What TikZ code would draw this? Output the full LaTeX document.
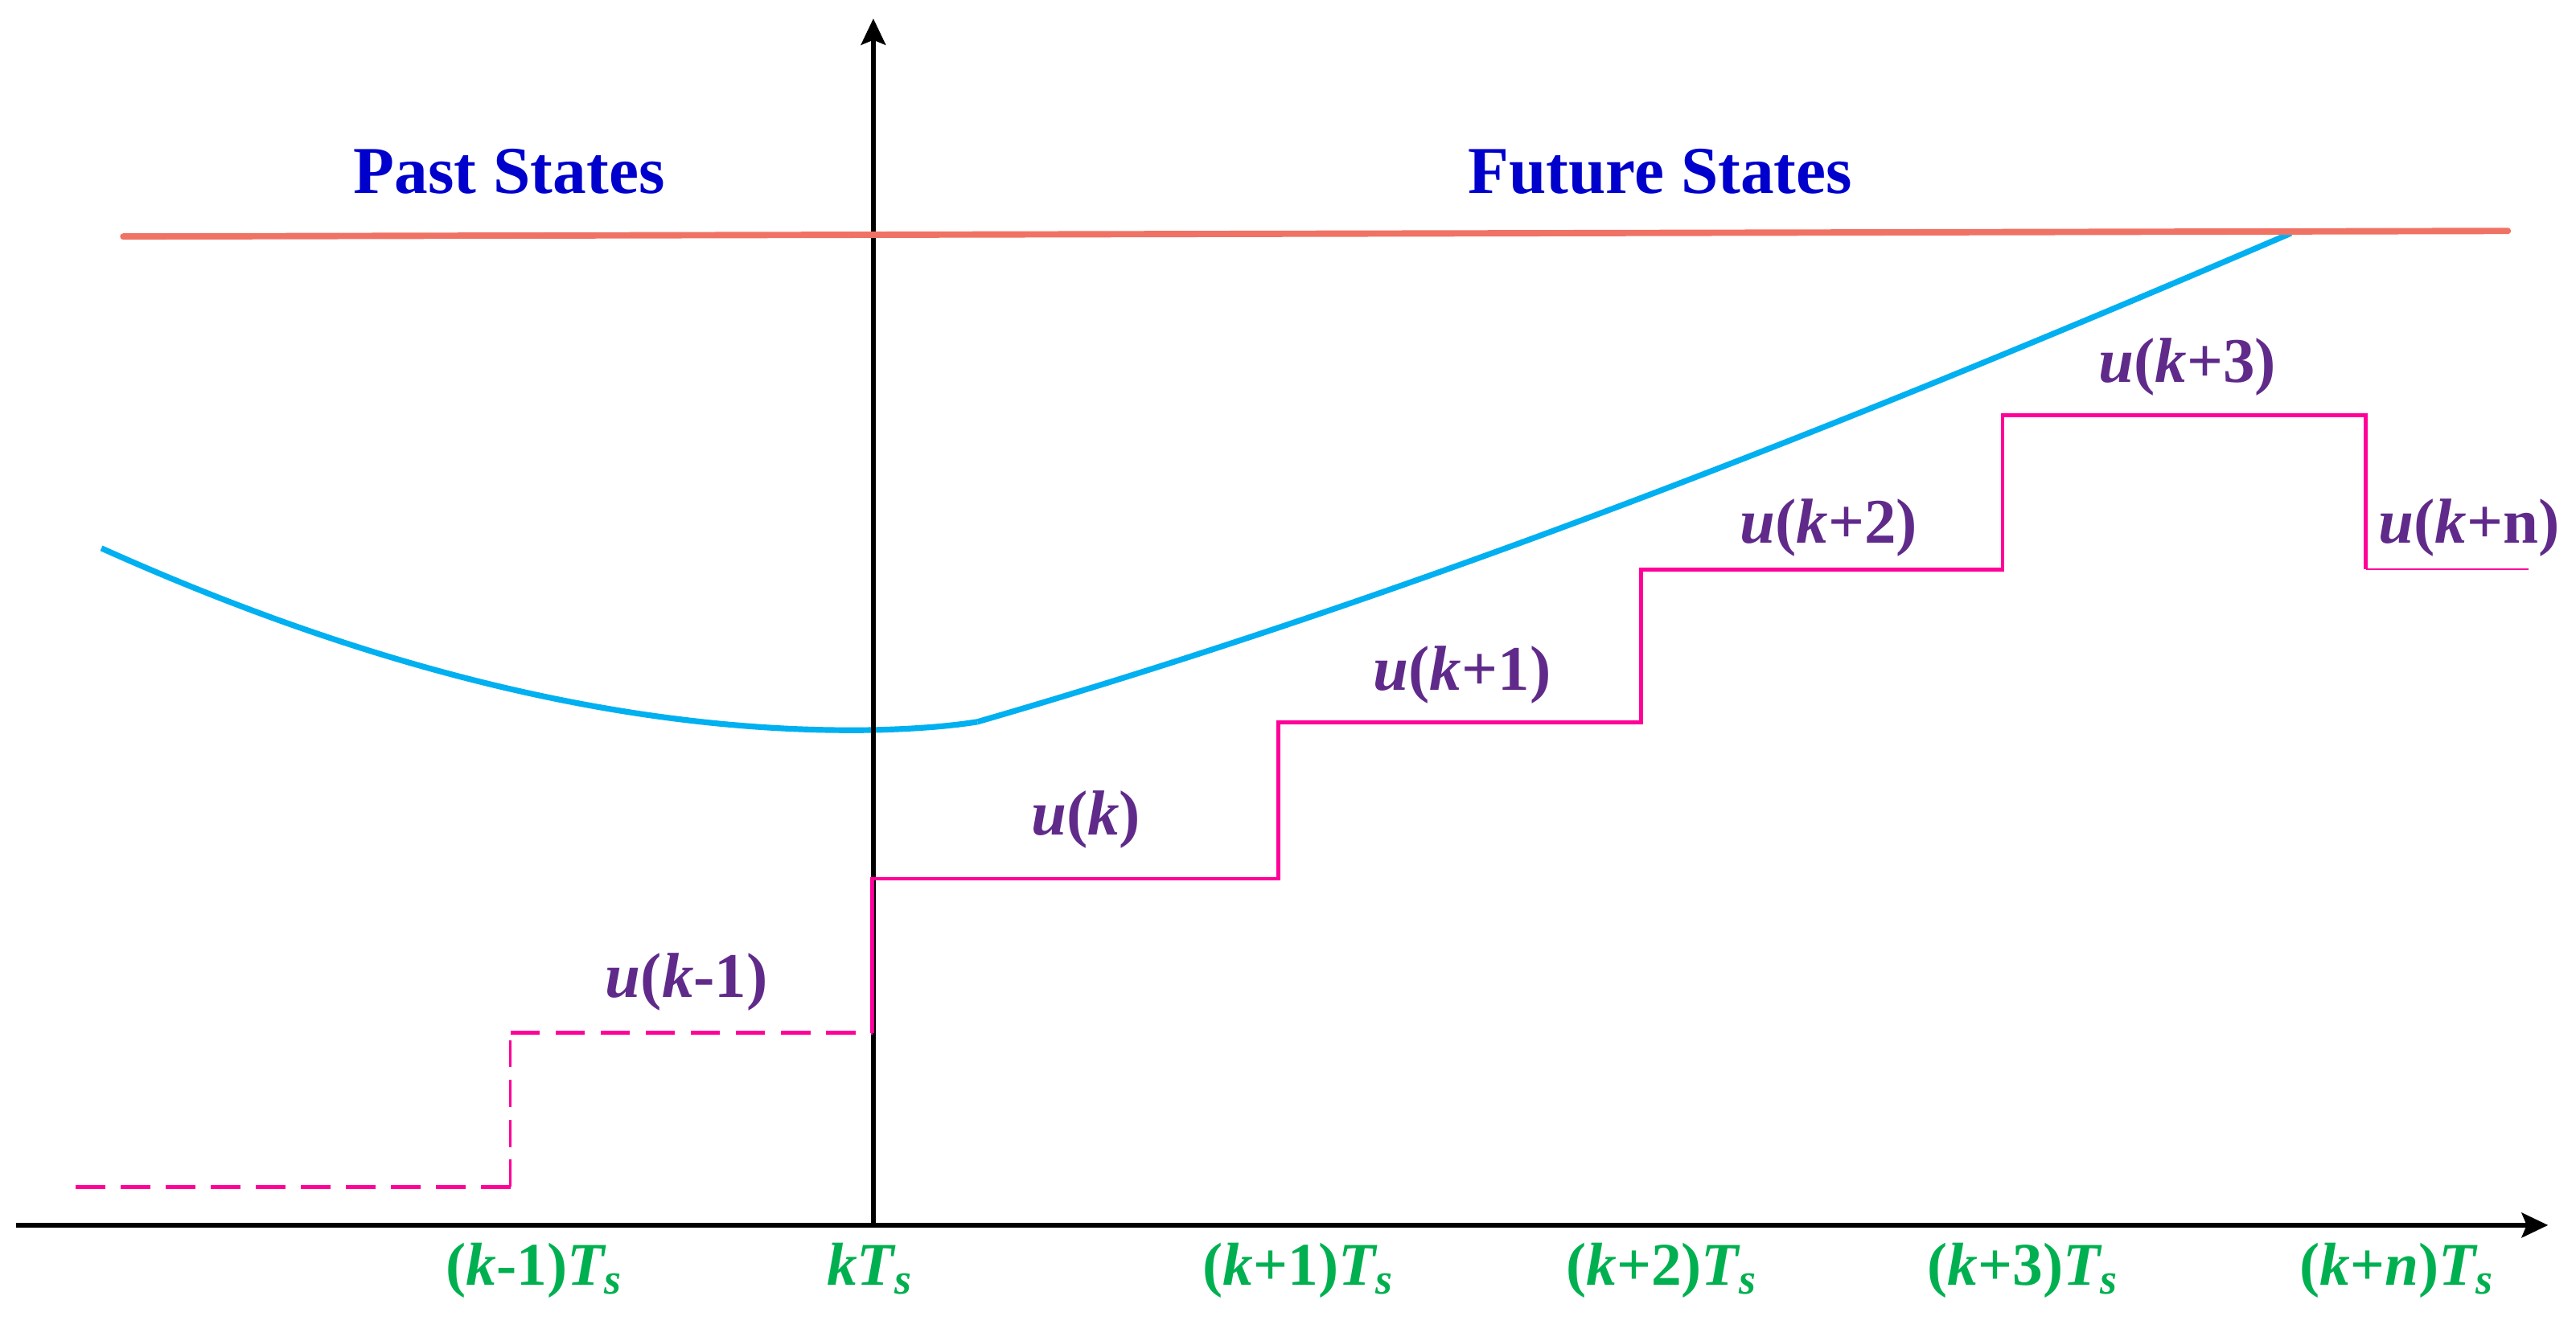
\documentclass[tikz,border=0pt]{standalone}
\usepackage{fontspec}
\setmainfont{Liberation Serif}
\usetikzlibrary{arrows.meta}
\definecolor{cred}{HTML}{F07264}
\definecolor{ccyan}{HTML}{00B0F0}
\definecolor{cmag}{HTML}{FF0099}
\definecolor{cpurp}{HTML}{602A8A}
\definecolor{cgreen}{HTML}{00B050}
\definecolor{cblue}{HTML}{0000CC}
\newcommand{\tsub}{\textit{T}\kern-0.03em\raisebox{-0.32ex}{\fontsize{7.5pt}{8pt}\selectfont\textit{s}}}
\begin{document}
\begin{tikzpicture}[x=0.01cm,y=-0.01cm,
  ulabel/.style={text=cpurp, font=\fontsize{11pt}{12pt}\selectfont\bfseries, inner sep=0pt},
  tlabel/.style={text=cgreen, font=\fontsize{10.5pt}{12pt}\selectfont\bfseries, inner sep=0pt, anchor=base},
  slabel/.style={text=cblue, font=\fontsize{11.6pt}{13pt}\selectfont\bfseries, inner sep=0pt, anchor=base},
  axisline/.style={black, -{Stealth[length=0.16cm,width=0.15cm,inset=0.03cm]}},
  stepline/.style={cmag, line width=0.65pt},
  pastdash/.style={cmag, line width=0.7pt, dash pattern=on 5.1pt off 2.7pt},
  pastvdash/.style={cmag, line width=0.4pt, dash pattern=on 4.7pt off 2.2pt},
  refline/.style={cred, line width=1.1pt, line cap=round},
  trajline/.style={ccyan, line width=1.0pt}]
\useasboundingbox (0,0) rectangle (1568,814);

% coordinates
\coordinate (xs) at (10,746);
\coordinate (xe) at (1551,746);
\coordinate (ys) at (531.6,746);
\coordinate (ye) at (531.6,11.3);
\coordinate (rs) at (75,144);
\coordinate (re) at (1526.5,140.6);

% predicted trajectory
\coordinate (c0) at (61.7,333.8);
\coordinate (c1) at (531,444.5);
\coordinate (c2) at (595,439.5);
\coordinate (c3) at (1394.5,142);
\draw[trajline] (c0) .. controls (220,405) and (380,447) .. (c1)
  .. controls (560,443.8) and (580,441.9) .. (c2);
\draw[trajline] (c2) .. controls (862,362.1) and (1127.5,256.8) .. (c3);

% axes
\draw[axisline, line width=0.85pt] (xs) -- (xe);
\draw[axisline, line width=0.72pt] (ys) -- (ye);

% reference line
\draw[refline] (rs) -- (re);

% past inputs
\coordinate (p0) at (46,722.6);
\coordinate (p1) at (310.7,722.6);
\coordinate (p2) at (310.7,628.9);
\coordinate (p3) at (531,628.9);
\draw[pastdash] (p0) -- (p1);
\draw[pastvdash] (p1) -- (p2);
\draw[pastdash] (p2) -- (p3);

% future inputs
\coordinate (f1) at (531,535);
\coordinate (f2) at (778,535);
\coordinate (f3) at (778,440);
\coordinate (f4) at (999,440);
\coordinate (f5) at (999,346.8);
\coordinate (f6) at (1219,346.8);
\coordinate (f7) at (1219,252.8);
\coordinate (f8) at (1440,252.8);
\coordinate (f9) at (1440,346.7);
\coordinate (f10) at (1539,346.7);
\draw[stepline] (p3) -- (f1) -- (f2) -- (f3) -- (f4) -- (f5) -- (f6) -- (f7) -- (f8) -- (f9);
\draw[cmag, line width=0.35pt] (f9) -- (f10);

% input labels
\node[ulabel] (ukm1) at (418,598) {\textit{u}(\textit{k}-1)};
\node[ulabel] (uk0) at (661,499) {\textit{u}(\textit{k})};
\node[ulabel] (uk1) at (890,411) {\textit{u}(\textit{k}+1)};
\node[ulabel] (uk2) at (1113,321.5) {\textit{u}(\textit{k}+2)};
\node[ulabel] (uk3) at (1331.5,223.5) {\textit{u}(\textit{k}+3)};
\node[ulabel] (ukn) at (1503,321.5) {\textit{u}(\textit{k}+n)};

% time labels
\node[tlabel] (tkm1) at (325,782.3) {(\textit{k}-1)\tsub};
\node[tlabel] (tk0) at (529,782.3) {\textit{k}\tsub};
\node[tlabel] (tk1) at (790,782.3) {(\textit{k}+1)\tsub};
\node[tlabel] (tk2) at (1011,782.3) {(\textit{k}+2)\tsub};
\node[tlabel] (tk3) at (1231,782.3) {(\textit{k}+3)\tsub};
\node[tlabel] (tkn) at (1458.5,782.3) {(\textit{k}+\textit{n})\tsub};

% section titles
\node[slabel] (past) at (310,117.5) {Past States};
\node[slabel] (future) at (1010.6,117.5) {Future States};
\end{tikzpicture}
\end{document}
